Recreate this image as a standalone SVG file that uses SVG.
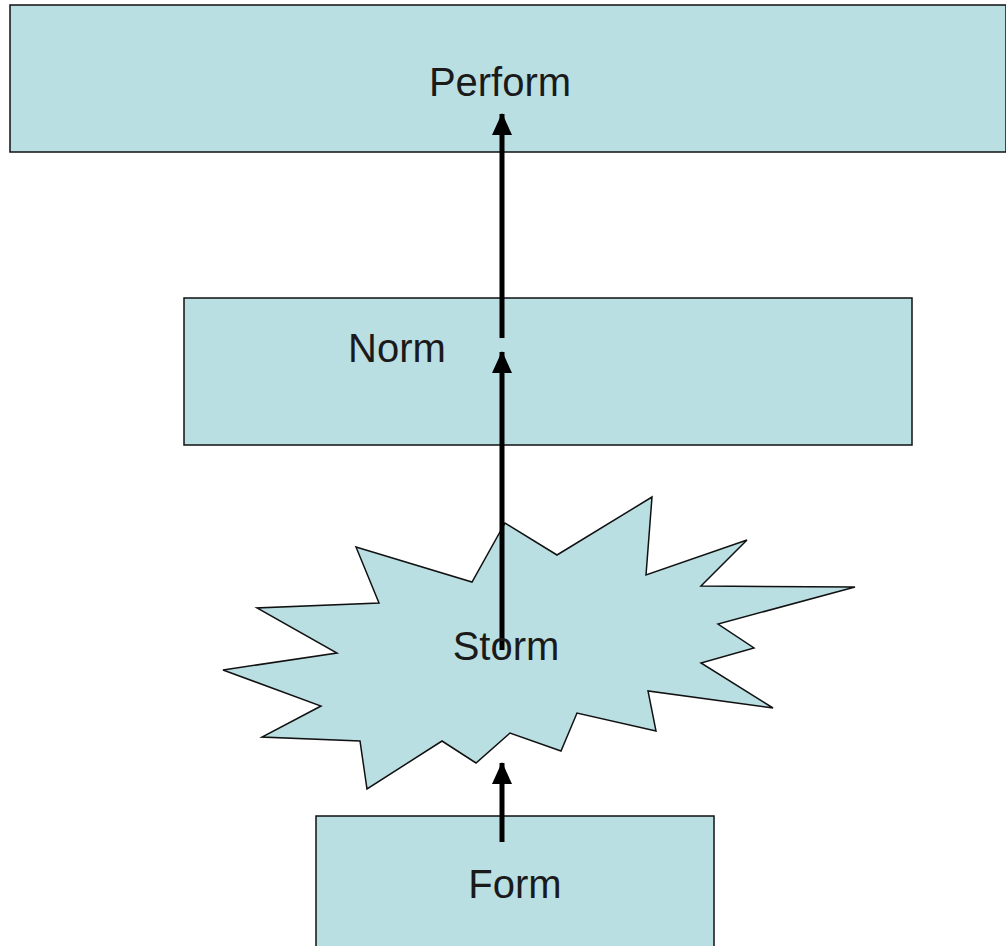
<svg xmlns="http://www.w3.org/2000/svg" width="1006" height="946" viewBox="0 0 1006 946">
<style>
.box{fill:#BADFE3;stroke:#111;stroke-width:1.5}
.lbl{font-family:"Liberation Sans",Arial,sans-serif;font-size:40px;fill:#1a1a1a;text-anchor:middle}
.con{stroke:#000;stroke-width:5;fill:none}
</style>
<defs>
<marker id="ah" markerUnits="userSpaceOnUse" markerWidth="22" markerHeight="22" refX="21" refY="10" orient="auto" viewBox="0 0 22 20">
<path d="M0,0 L22,10 L0,20 Z" fill="#000"/>
</marker>
</defs>
<rect width="1006" height="946" fill="#fff"/>
<g id="perform">
<rect class="box" x="10" y="5" width="996" height="147"/>
<text class="lbl" x="500" y="96">Perform</text>
</g>
<g id="norm">
<rect class="box" x="184" y="298" width="728" height="147"/>
<text class="lbl" x="397" y="362">Norm</text>
</g>
<g id="form">
<rect class="box" x="316" y="816" width="398" height="140"/>
<text class="lbl" x="515" y="898">Form</text>
</g>
<g id="storm">
<polygon class="box" points="356,547 472,582 505,523 557,555 652,497 646,575 747,540 701,586 855,587 718,624 754,648 701,663 773,708 648,691 656,731 577,713 561,751 510,733 476,763 442,741 367,789 360,741 262,737 321,706 223,670 337,653 257,608 379,603"/>
</g>
<g id="connectors">
<line class="con" x1="502" y1="338" x2="502" y2="114" marker-end="url(#ah)"/>
<line class="con" x1="502" y1="650" x2="502" y2="352" marker-end="url(#ah)"/>
<line class="con" x1="502" y1="842" x2="502" y2="763" marker-end="url(#ah)"/>
</g>
<g id="storm-label">
<text class="lbl" x="506" y="660">Storm</text>
</g>
</svg>
